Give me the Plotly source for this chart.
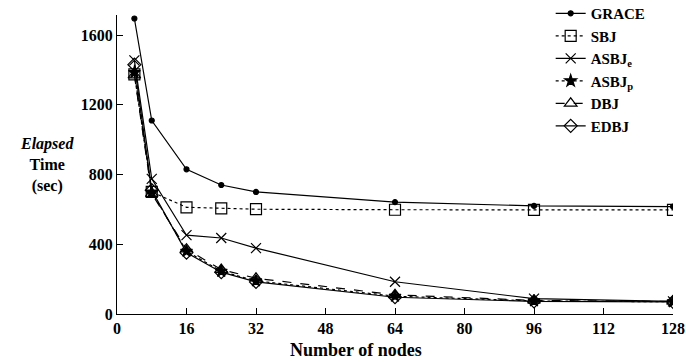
import plotly.graph_objects as go

nodes = [4, 8, 16, 24, 32, 64, 96, 128]
grace = [1695, 1110, 830, 740, 700, 642, 620, 616]
sbj = [1375, 700, 612, 606, 601, 598, 597, 597]
asbj_e = [1455, 775, 452, 436, 378, 185, 88, 72]
asbj_p = [1385, 700, 360, 245, 190, 102, 75, 70]
dbj = [1370, 690, 372, 255, 205, 110, 78, 72]
edbj = [1430, 710, 352, 240, 184, 96, 72, 70]

series = [
    ("GRACE", grace, "solid", "circle", 5),
    ("SBJ", sbj, "dot", "square-open", 11),
    ("ASBJ<sub>e</sub>", asbj_e, "solid", "x-thin-open", 10),
    ("ASBJ<sub>p</sub>", asbj_p, "dot", "star", 9),
    ("DBJ", dbj, "dash", "triangle-up-open", 11),
    ("EDBJ", edbj, "solid", "diamond-open", 10),
]

fig = go.Figure()
for name, ys, dash, sym, sz in series:
    fig.add_trace(go.Scatter(
        x=nodes, y=ys, name=name, mode="lines+markers",
        line=dict(color="black", width=1.2, dash=dash),
        marker=dict(symbol=sym, size=sz, color="black",
                    line=dict(color="black", width=1.2)),
    ))

font = "Liberation Serif"
fig.update_layout(
    width=686, height=362,
    margin=dict(l=117, r=13, t=15, b=48, autoexpand=False),
    paper_bgcolor="white", plot_bgcolor="white",
    font=dict(family=font, size=16, color="black"),
    showlegend=True,
    legend=dict(x=0.78, y=1.06, xanchor="left", yanchor="top",
                bgcolor="rgba(0,0,0,0)", tracegroupgap=0,
                font=dict(family=font, size=15, color="black", weight="bold"),
                itemwidth=30),
    xaxis=dict(range=[0, 128], tickvals=[0, 16, 32, 48, 64, 80, 96, 112, 128],
               ticks="inside", ticklen=6, tickcolor="black",
               showline=True, linecolor="black", linewidth=1.2,
               showgrid=False, zeroline=False, automargin=False,
               tickfont=dict(family=font, size=16, weight="bold")),
    yaxis=dict(range=[0, 1715], tickvals=[0, 400, 800, 1200, 1600],
               ticks="inside", ticklen=6, tickcolor="black",
               showline=True, linecolor="black", linewidth=1.2,
               showgrid=False, zeroline=False, automargin=False,
               tickfont=dict(family=font, size=16, weight="bold")),
)
fig.add_annotation(
    xref="paper", yref="paper", x=-0.126, y=0.50, xanchor="center", yanchor="middle",
    text="<b><i>Elapsed</i></b><br><b>Time</b><br><b>(sec)</b>",
    showarrow=False, align="center", font=dict(family=font, size=16, color="black"),
)
fig.add_annotation(
    xref="paper", yref="paper", x=(356 - 117) / 556, y=-36 / 299,
    xanchor="center", yanchor="middle",
    text="<b>Number of nodes</b>",
    showarrow=False, font=dict(family=font, size=18, color="black"),
)
fig.write_html("out.html")
